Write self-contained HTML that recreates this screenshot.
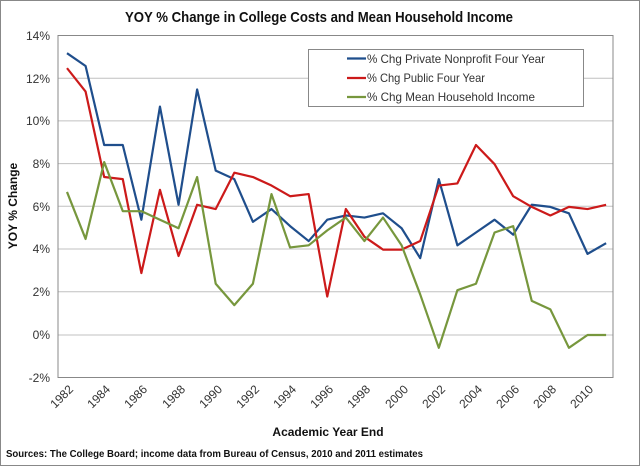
<!DOCTYPE html>
<html><head><meta charset="utf-8"><style>
body{margin:0;background:#fff}
svg{display:block;font-family:"Liberation Sans",Calibri,sans-serif}
</style></head><body>
<svg width="640" height="466" viewBox="0 0 640 466">
<rect x="0.5" y="0.5" width="639" height="465" fill="#fff" stroke="#888"/>
<text x="125" y="22" textLength="388" lengthAdjust="spacingAndGlyphs" font-size="15" font-weight="bold" fill="#111">YOY % Change in College Costs and Mean Household Income</text>
<g stroke="#c0c0c0" stroke-width="1">
<line x1="58" x2="613" y1="35.5" y2="35.5"/>
<line x1="58" x2="613" y1="78.2" y2="78.2"/>
<line x1="58" x2="613" y1="120.9" y2="120.9"/>
<line x1="58" x2="613" y1="163.6" y2="163.6"/>
<line x1="58" x2="613" y1="206.3" y2="206.3"/>
<line x1="58" x2="613" y1="249" y2="249"/>
<line x1="58" x2="613" y1="291.7" y2="291.7"/>
<line x1="58" x2="613" y1="335" y2="335"/>
</g>
<rect x="58" y="35.5" width="555" height="342" fill="none" stroke="#888"/>
<g font-size="12" fill="#333" text-anchor="end">
<text x="50" y="40">14%</text><text x="50" y="83">12%</text><text x="50" y="125">10%</text>
<text x="50" y="168">8%</text><text x="50" y="211">6%</text><text x="50" y="253">4%</text>
<text x="50" y="296">2%</text><text x="50" y="339">0%</text><text x="50" y="382">-2%</text>
</g>
<text transform="translate(17,206) rotate(-90)" text-anchor="middle" font-size="12" font-weight="bold" fill="#111">YOY % Change</text>
<g font-size="12" fill="#333" text-anchor="end">
<text transform="translate(74,390) rotate(-45)">1982</text>
<text transform="translate(111,390) rotate(-45)">1984</text>
<text transform="translate(148,390) rotate(-45)">1986</text>
<text transform="translate(186,390) rotate(-45)">1988</text>
<text transform="translate(223,390) rotate(-45)">1990</text>
<text transform="translate(260,390) rotate(-45)">1992</text>
<text transform="translate(297,390) rotate(-45)">1994</text>
<text transform="translate(334,390) rotate(-45)">1996</text>
<text transform="translate(371,390) rotate(-45)">1998</text>
<text transform="translate(409,390) rotate(-45)">2000</text>
<text transform="translate(446,390) rotate(-45)">2002</text>
<text transform="translate(483,390) rotate(-45)">2004</text>
<text transform="translate(520,390) rotate(-45)">2006</text>
<text transform="translate(557,390) rotate(-45)">2008</text>
<text transform="translate(594,390) rotate(-45)">2010</text>
</g>
<text x="328" y="436" text-anchor="middle" font-size="12" font-weight="bold" fill="#111">Academic Year End</text>
<text x="6" y="457" textLength="417" lengthAdjust="spacingAndGlyphs" font-size="10" font-weight="bold" fill="#111">Sources: The College Board; income data from Bureau of Census, 2010 and 2011 estimates</text>
<g transform="translate(67,335) scale(18.59,-21.35)" fill="none" stroke-width="2.2" stroke-linejoin="round">
<polyline vector-effect="non-scaling-stroke" stroke="#1f4e8c" points="0,13.2 1,12.6 2,8.9 3,8.9 4,5.4 5,10.7 6,6.1 7,11.5 8,7.7 9,7.3 10,5.3 11,5.9 12,5.1 13,4.4 14,5.4 15,5.6 16,5.5 17,5.7 18,5.0 19,3.6 20,7.3 21,4.2 22,4.8 23,5.4 24,4.7 25,6.1 26,6.0 27,5.7 28,3.8 29,4.3"/>
<polyline vector-effect="non-scaling-stroke" stroke="#cc1a1a" points="0,12.5 1,11.4 2,7.4 3,7.3 4,2.9 5,6.8 6,3.7 7,6.1 8,5.9 9,7.6 10,7.4 11,7.0 12,6.5 13,6.6 14,1.8 15,5.9 16,4.6 17,4.0 18,4.0 19,4.4 20,7.0 21,7.1 22,8.9 23,8.0 24,6.5 25,6.0 26,5.6 27,6.0 28,5.9 29,6.1"/>
<polyline vector-effect="non-scaling-stroke" stroke="#77973d" points="0,6.7 1,4.5 2,8.1 3,5.8 4,5.8 5,5.4 6,5.0 7,7.4 8,2.4 9,1.4 10,2.4 11,6.6 12,4.1 13,4.2 14,4.9 15,5.5 16,4.4 17,5.5 18,4.2 19,1.9 20,-0.6 21,2.1 22,2.4 23,4.8 24,5.1 25,1.6 26,1.2 27,-0.6 28,0 29,0"/>
</g>
<rect x="308.5" y="49.5" width="275" height="57" fill="#fff" stroke="#888"/>
<g font-size="12" fill="#333">
<line x1="347" x2="366" y1="58.5" y2="58.5" stroke="#1f4e8c" stroke-width="2.2"/><text x="367" y="63" textLength="178" lengthAdjust="spacingAndGlyphs">% Chg Private Nonprofit Four Year</text>
<line x1="347" x2="366" y1="78" y2="78" stroke="#cc1a1a" stroke-width="2.2"/><text x="367" y="82" textLength="118" lengthAdjust="spacingAndGlyphs">% Chg Public Four Year</text>
<line x1="347" x2="366" y1="97" y2="97" stroke="#77973d" stroke-width="2.2"/><text x="367" y="101" textLength="168" lengthAdjust="spacingAndGlyphs">% Chg Mean Household Income</text>
</g>
</svg>
</body></html>
